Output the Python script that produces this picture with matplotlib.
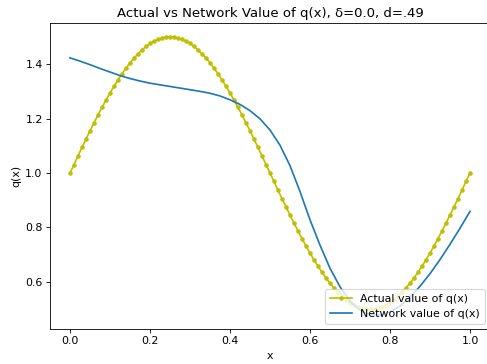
import numpy as np
import matplotlib
matplotlib.use("Agg")
import matplotlib.pyplot as plt

# actual q(x) sampled every 0.01
x_actual = np.linspace(0, 1, 101)
q_actual = [1.000, 1.031, 1.063, 1.094, 1.124, 1.155, 1.184, 1.213, 1.241, 1.268,
            1.294, 1.319, 1.342, 1.365, 1.385, 1.405, 1.422, 1.438, 1.452, 1.465,
            1.476, 1.484, 1.491, 1.496, 1.499, 1.500, 1.499, 1.496, 1.491, 1.484,
            1.476, 1.465, 1.452, 1.438, 1.422, 1.405, 1.385, 1.365, 1.342, 1.319,
            1.294, 1.268, 1.241, 1.213, 1.184, 1.155, 1.124, 1.094, 1.063, 1.031,
            1.000, 0.969, 0.937, 0.906, 0.876, 0.845, 0.816, 0.787, 0.759, 0.732,
            0.706, 0.681, 0.658, 0.635, 0.615, 0.595, 0.578, 0.562, 0.548, 0.535,
            0.524, 0.516, 0.509, 0.504, 0.501, 0.500, 0.501, 0.504, 0.509, 0.516,
            0.524, 0.535, 0.548, 0.562, 0.578, 0.595, 0.615, 0.635, 0.658, 0.681,
            0.706, 0.732, 0.759, 0.787, 0.816, 0.845, 0.876, 0.906, 0.937, 0.969,
            1.000]

# network output, read every 0.025
x_net = np.linspace(0, 1, 41)
q_net = [1.423, 1.411, 1.398, 1.384, 1.371, 1.358, 1.347, 1.338, 1.330, 1.324,
         1.318, 1.312, 1.306, 1.300, 1.293, 1.283, 1.269, 1.252, 1.229, 1.199,
         1.158, 1.102, 1.027, 0.932, 0.828, 0.735, 0.650, 0.582, 0.530, 0.496,
         0.479, 0.478, 0.489, 0.511, 0.543, 0.584, 0.630, 0.682, 0.738, 0.797,
         0.859]

plt.rcParams['font.size'] = 10.4
plt.rcParams['axes.titlesize'] = 12.5
plt.rcParams['lines.linewidth'] = 1.6

fig = plt.figure(figsize=(487 / 76, 364 / 76), dpi=76)
ax = fig.add_axes([50 / 487, 35 / 364, 440 / 487, 306 / 364])

ax.plot(x_actual, q_actual, 'y.-', markersize=6.5, label='Actual value of q(x)')
ax.plot(x_net, q_net, label='Network value of q(x)')
ax.set_title('Actual vs Network Value of q(x), δ=0.0, d=.49')
ax.set_xlabel('x')
ax.set_ylabel('q(x)')
ax.legend(loc='lower right')

plt.savefig('out.png', dpi=76)
